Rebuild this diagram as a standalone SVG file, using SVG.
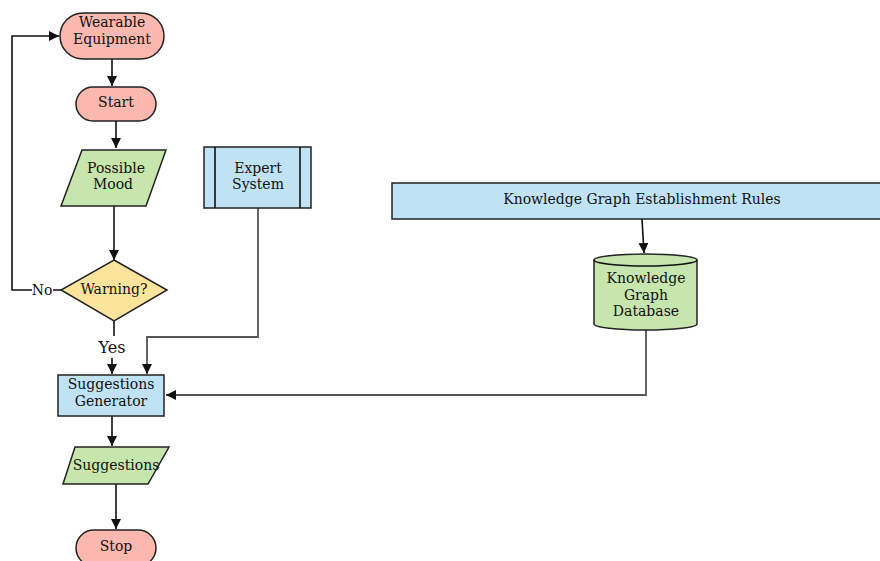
<svg xmlns="http://www.w3.org/2000/svg" width="880" height="561" viewBox="0 0 880 561">
  <style>
    .t { font-family: "DejaVu Serif", "Liberation Serif", serif; font-size: 14px; fill: #111; text-anchor: middle; dominant-baseline: central; }
    .pink { fill: #fbb8ae; stroke: #222; stroke-width: 1.5; }
    .green { fill: #c6e6ad; stroke: #222; stroke-width: 1.5; }
    .blue { fill: #bfe3f5; stroke: #222; stroke-width: 1.5; }
    .yellow { fill: #fde49d; stroke: #222; stroke-width: 1.5; }
    .edge { fill: none; stroke: #111; stroke-width: 1.6; }
    .edge-g { fill: none; stroke: #555; stroke-width: 1.8; }
  </style>
  <defs>
    <marker id="arr" viewBox="0 0 10 10" refX="10" refY="5" markerWidth="10" markerHeight="10" markerUnits="userSpaceOnUse" orient="auto">
      <path d="M0,0 L10,5 L0,10 Z" fill="#111"/>
    </marker>
  </defs>
  <rect width="880" height="561" fill="#fff"/>

  <g id="connectors">
    <path class="edge" d="M112,59 V86" marker-end="url(#arr)"/>
    <path class="edge" d="M116,121 V148" marker-end="url(#arr)"/>
    <path class="edge" d="M114,206 V260" marker-end="url(#arr)"/>
    <path class="edge" d="M61,290 H53 M32,290 H12 V36 H59" marker-end="url(#arr)"/>
    <path class="edge" d="M114,321 V336"/>
    <path class="edge" d="M112,358 V374" marker-end="url(#arr)"/>
    <path class="edge-g" d="M258,208 V337 H147 V374" marker-end="url(#arr)"/>
    <path class="edge" d="M642,219 L644,253" marker-end="url(#arr)"/>
    <path class="edge-g" d="M646,330 V395 H166" marker-end="url(#arr)"/>
    <path class="edge" d="M112,416 V446" marker-end="url(#arr)"/>
    <path class="edge" d="M116,484 V529" marker-end="url(#arr)"/>
    <text class="t" x="42" y="290">No</text>
    <text class="t" x="112" y="347" style="font-size:16px">Yes</text>
  </g>

  <g id="wearable">
    <rect class="pink" x="60" y="13" width="104" height="46" rx="23"/>
    <text class="t" x="112" y="22">Wearable</text>
    <text class="t" x="112" y="39">Equipment</text>
  </g>

  <g id="start">
    <rect class="pink" x="76" y="87" width="80" height="34" rx="17"/>
    <text class="t" x="116" y="102">Start</text>
  </g>

  <g id="possible-mood">
    <polygon class="green" points="82,150 166,150 146,206 61,206"/>
    <text class="t" x="116" y="168">Possible</text>
    <text class="t" x="113" y="184">Mood</text>
  </g>

  <g id="expert-system">
    <rect class="blue" x="204" y="147" width="107" height="61"/>
    <line class="edge" x1="215" y1="147" x2="215" y2="208"/>
    <line class="edge" x1="300" y1="147" x2="300" y2="208"/>
    <text class="t" x="258" y="168">Expert</text>
    <text class="t" x="258" y="184">System</text>
  </g>

  <g id="warning">
    <polygon class="yellow" points="114,260 167,290 114,321 61,290"/>
    <text class="t" x="114" y="289">Warning?</text>
  </g>

  <g id="suggestions-generator">
    <rect class="blue" x="58" y="375" width="106" height="41"/>
    <text class="t" x="111" y="384">Suggestions</text>
    <text class="t" x="111" y="401">Generator</text>
  </g>

  <g id="suggestions">
    <polygon class="green" points="75,447 169,447 148,484 63,484"/>
    <text class="t" x="116" y="465">Suggestions</text>
  </g>

  <g id="stop">
    <rect class="pink" x="76" y="530" width="80" height="36" rx="18"/>
    <text class="t" x="116" y="546">Stop</text>
  </g>

  <g id="kg-rules">
    <rect class="blue" x="392" y="183" width="495" height="36"/>
    <text class="t" x="642" y="199">Knowledge Graph Establishment Rules</text>
  </g>

  <g id="kg-database">
    <path class="green" d="M594,260 A51.5,6 0 0 1 697,260 V324 A51.5,6 0 0 1 594,324 Z"/>
    <path class="edge" d="M594,260 A51.5,6 0 0 0 697,260"/>
    <text class="t" x="646" y="278">Knowledge</text>
    <text class="t" x="646" y="295">Graph</text>
    <text class="t" x="646" y="311">Database</text>
  </g>
</svg>
